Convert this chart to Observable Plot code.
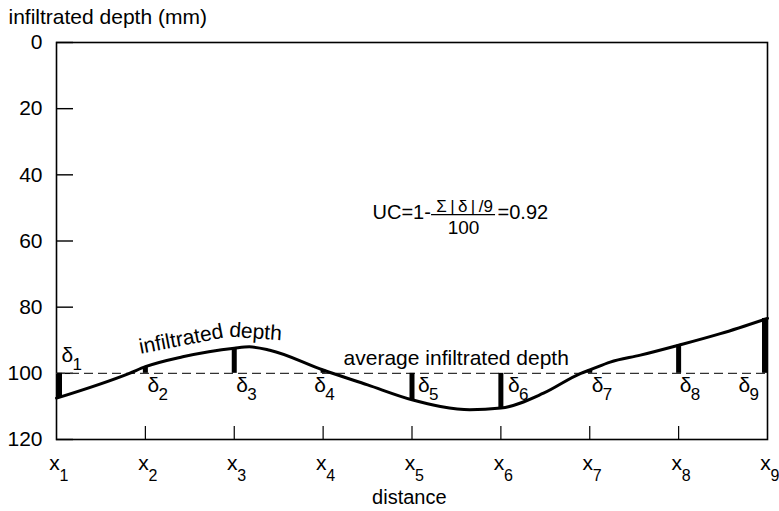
<!DOCTYPE html>
<html><head><meta charset="utf-8">
<script src="https://cdn.jsdelivr.net/npm/d3@7"></script>
<script src="https://cdn.jsdelivr.net/npm/@observablehq/plot@0.6"></script>
<style>
html,body{margin:0;padding:0;background:#fff;}
#chart svg{display:block;}
</style></head><body><div id="chart"></div>
<script>
// distance along the field (x1 = 1 … x9 = 9) and infiltrated depth (mm)
const curveDistance = [1, 1.82, 2, 2.42, 3, 3.17, 3.4, 4, 4.5, 5, 5.32, 5.65, 6, 6.48, 6.9, 7, 7.23, 7.57, 8, 8.47, 9];
const curveDepth    = [107.5, 100, 98, 95, 92.4, 92, 93, 99, 103.5, 108, 110, 111, 110.5, 106, 100, 99, 96.6, 94.5, 91.5, 88, 83.4];
// measuring stations and depth at each
const stations     = [1, 2, 3, 4, 5, 6, 7, 8, 9];
const stationDepth = [107.5, 98, 92.4, 99, 108, 110.5, 99, 91.5, 83.4];
const averageDepth = 100;
const yTicks = [0, 20, 40, 60, 80, 100, 120];
const xInnerTicks = [2, 3, 4, 5, 6, 7, 8];
const stationSub = ["1", "2", "3", "4", "5", "6", "7", "8", "9"];
const yTitle = "infiltrated depth (mm)";
const xTitle = "distance";
const curveLabel = ["infiltrated", "depth"];
const avgLabel = "average infiltrated depth";
const formula = {lead: "UC=1-", num: "Σ\u2009|\u2009δ\u2009|\u2009/9", den: "100", tail: "=0.92"};

const curve = curveDistance.map((d, i) => ({d, v: curveDepth[i]}));
const st = stations.map((s, i) => ({s, v: stationDepth[i], sub: stationSub[i]}));

// label nudges (px) for the δ labels
const deltaDx = [5, 2, 2, -9, 6, 7, 2, 1, -29];

const FS = 21;
const marks = [
  Plot.frame({stroke: "black", strokeWidth: 1.6}),
  Plot.axisY(yTicks, {tickSize: 17, dx: 17, tickFormat: () => "", label: null, strokeWidth: 1.4}),
  Plot.axisY(yTicks, {tickSize: 0, tickPadding: 14, fontSize: FS, label: null}),
  Plot.axisX(xInnerTicks, {tickSize: 13, dy: -13, tickFormat: () => "", label: null, strokeWidth: 1.2}),
  Plot.text(st, {x: "s", text: () => "x", frameAnchor: "bottom", lineAnchor: "bottom", dy: 30, dx: -2, fontSize: FS}),
  Plot.text(st, {x: "s", text: "sub", frameAnchor: "bottom", lineAnchor: "bottom", textAnchor: "start", dy: 41, dx: 3, fontSize: 16}),
  Plot.text([xTitle], {x: [4.97], text: d => d, frameAnchor: "bottom", lineAnchor: "bottom", dy: 64, fontSize: 20}),
  Plot.text([yTitle], {frameAnchor: "top-left", text: d => d, textAnchor: "start", lineAnchor: "bottom", dx: -48, dy: -19, fontSize: FS}),
  Plot.ruleY([averageDepth], {x1: 1, x2: 9, stroke: "#333", strokeWidth: 1.3, strokeDasharray: "9,5"}),
  Plot.ruleX(st, {filter: (d, i) => i > 0 && i < 8, x: "s", y1: averageDepth, y2: "v", strokeWidth: 5, stroke: "black"}),
  Plot.ruleX(st, {filter: (d, i) => i === 0, x: "s", y1: averageDepth, y2: "v", strokeWidth: 5, stroke: "black", dx: 3}),
  Plot.ruleX(st, {filter: (d, i) => i === 8, x: "s", y1: averageDepth, y2: "v", strokeWidth: 5, stroke: "black", dx: -3}),
  Plot.line(curve, {x: "d", y: "v", curve: "monotone-x", stroke: "black", strokeWidth: 3}),
  Plot.text([avgLabel], {x: [4.23], y: [averageDepth], text: d => d, textAnchor: "start", lineAnchor: "bottom", dy: -8, fontSize: FS}),
  Plot.text([curveLabel[0]], {x: [1.945], y: [94.1], text: d => d, textAnchor: "start", lineAnchor: "bottom", rotate: -11, fontSize: FS}),
  Plot.text([curveLabel[1]], {x: [2.94], y: [88.9], text: d => d, textAnchor: "start", lineAnchor: "bottom", rotate: 4, fontSize: FS}),
  Plot.text([formula.lead], {x: [4.556], y: [53.2], text: d => d, textAnchor: "start", lineAnchor: "bottom", fontSize: 20}),
  Plot.text([formula.num], {x: [4.556], y: [53.2], text: d => d, textAnchor: "middle", lineAnchor: "bottom", dx: 92, dy: -7, fontSize: 17}),
  Plot.ruleY([52.0], {x1: 5.22, x2: 5.94, stroke: "black", strokeWidth: 1.3}),
  Plot.text([formula.den], {x: [4.556], y: [53.2], text: d => d, textAnchor: "middle", lineAnchor: "bottom", dx: 91, dy: 15, fontSize: 19}),
  Plot.text([formula.tail], {x: [4.556], y: [53.2], text: d => d, textAnchor: "start", lineAnchor: "bottom", dx: 125, fontSize: 20})
];
st.forEach((d, i) => {
  const above = i === 0;
  marks.push(Plot.text([d], {x: "s", y: () => averageDepth, text: () => "δ", textAnchor: "start", lineAnchor: "bottom", dx: deltaDx[i], dy: above ? -11 : 19, fontSize: FS}));
  marks.push(Plot.text([d], {x: "s", y: () => averageDepth, text: "sub", textAnchor: "start", lineAnchor: "bottom", dx: deltaDx[i] + 11, dy: above ? -3 : 27, fontSize: 17}));
});

const chart = Plot.plot({
  width: 779, height: 511,
  marginLeft: 56, marginRight: 12, marginTop: 42, marginBottom: 72,
  x: {domain: [1, 9], axis: null},
  y: {domain: [0, 120], reverse: true, axis: null},
  style: {fontFamily: "'Liberation Sans', Arial, sans-serif", fontSize: "21px", color: "black", background: "white"},
  marks
});
document.getElementById("chart").appendChild(chart);
</script></body></html>
